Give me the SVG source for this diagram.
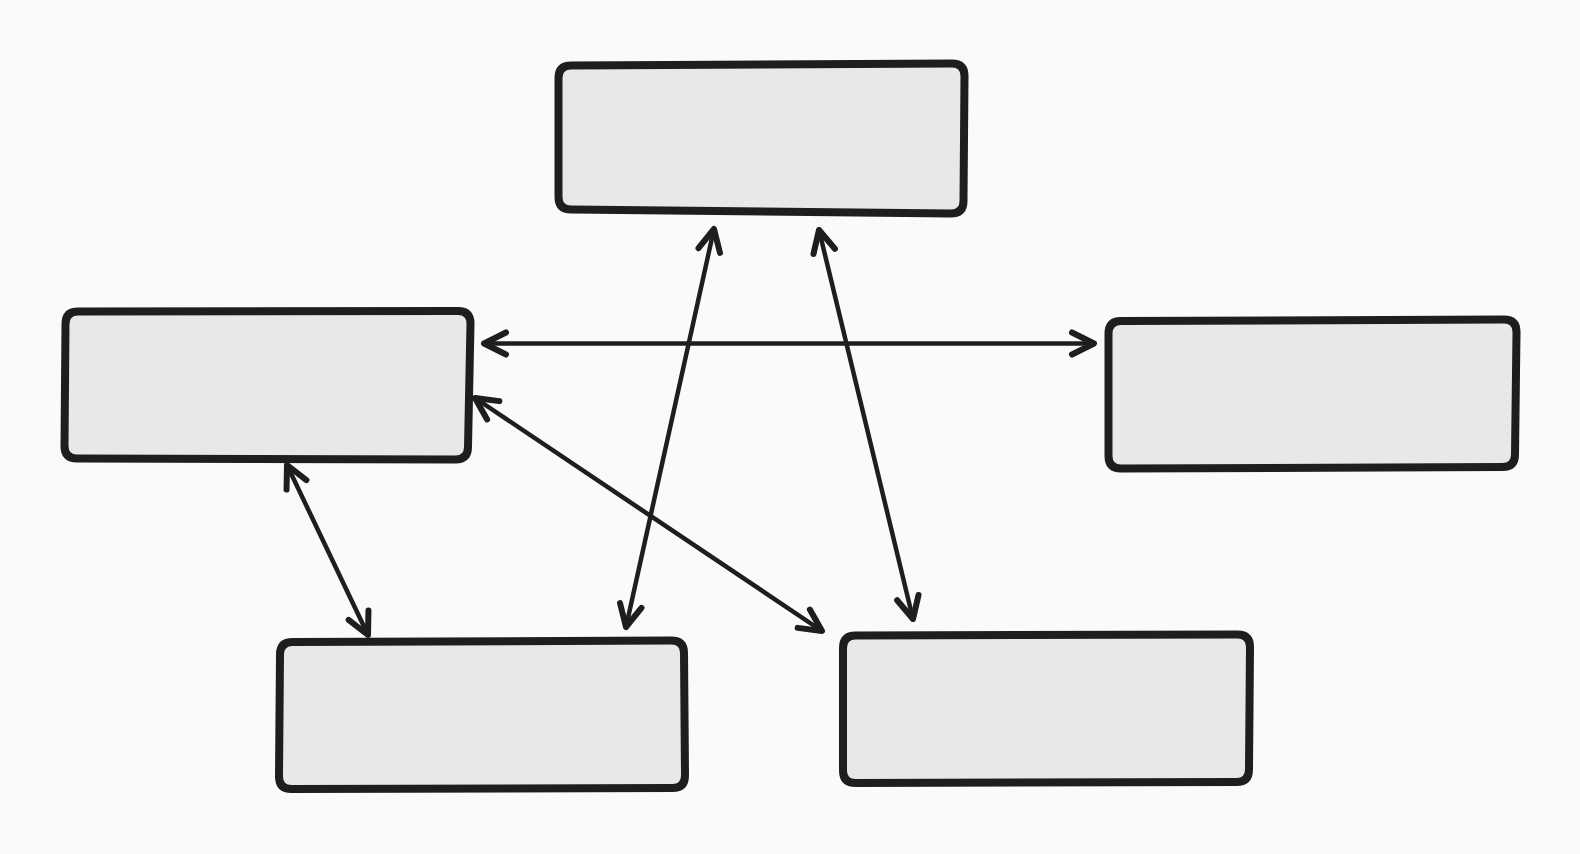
<svg xmlns="http://www.w3.org/2000/svg" width="1580" height="854" viewBox="0 0 1580 854">
<defs>
<style>
.node{fill:#e8e8e8;stroke:#1e1e1e;stroke-width:8;stroke-linejoin:round}
.edge{fill:none;stroke:#1e1e1e;stroke-width:4.5;stroke-linecap:round}
.head{fill:none;stroke:#1e1e1e;stroke-width:6;stroke-linecap:round;stroke-linejoin:round}
</style>
<marker id="ah" markerUnits="userSpaceOnUse" markerWidth="40" markerHeight="40" refX="30" refY="20" orient="auto-start-reverse" overflow="visible">
<path class="head" d="M8,9 L30,20 L8,31"/>
</marker>
</defs>
<rect width="1580" height="854" fill="#f9fafb"/>
<g id="connectors">
<line class="edge" x1="484" y1="343.5" x2="1094" y2="343.5" marker-start="url(#ah)" marker-end="url(#ah)"/>
<line class="edge" x1="714" y1="229" x2="626" y2="627" marker-start="url(#ah)" marker-end="url(#ah)"/>
<line class="edge" x1="819" y1="230" x2="913" y2="619" marker-start="url(#ah)" marker-end="url(#ah)"/>
<line class="edge" x1="475" y1="398" x2="822" y2="631" marker-start="url(#ah)" marker-end="url(#ah)"/>
<line class="edge" x1="287" y1="465" x2="368" y2="635" marker-start="url(#ah)" marker-end="url(#ah)"/>
</g>
<g id="node-top">
<path class="node" d="M571,65.5 L952,63.5 Q964.5,63.5 964.5,76 L963.5,201 Q963.5,213.5 951,213.5 L571,209.5 Q558.5,209.5 558.5,197 L558.5,78 Q558.5,65.5 571,65.5 Z"/>
</g>
<g id="node-left">
<path class="node" d="M78,311.5 L458,311 Q470.5,311 470.5,323.5 L468,447 Q468,459.5 455.5,459.5 L77,458.5 Q64.5,458.5 64.5,446 L65.5,324 Q65.5,311.5 78,311.5 Z"/>
</g>
<g id="node-right">
<path class="node" d="M1121,321 L1504,319.5 Q1516.5,319.5 1516.5,332 L1515,454.5 Q1515,467 1502.5,467 L1121,468.5 Q1108.5,468.5 1108.5,456 L1108.5,333.5 Q1108.5,321 1121,321 Z"/>
</g>
<g id="node-bottom-left">
<path class="node" d="M292.5,642 L671.5,640.5 Q684,640.5 684,653 L685,775.5 Q685,788 672.5,788 L291.5,789 Q279,789 279,776.5 L280,654.5 Q280,642 292.5,642 Z"/>
</g>
<g id="node-bottom-right">
<path class="node" d="M855.5,635.5 L1237.5,634.5 Q1250,634.5 1250,647 L1249,769.5 Q1249,782 1236.5,782 L855.5,783 Q843,783 843,770.5 L843,648 Q843,635.5 855.5,635.5 Z"/>
</g>
</svg>
